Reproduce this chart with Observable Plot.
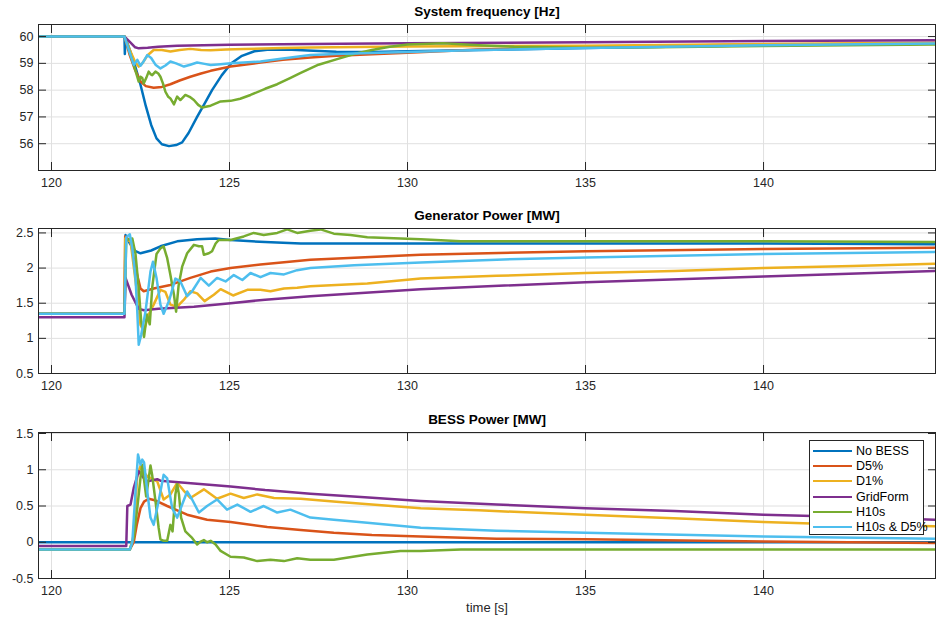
<!DOCTYPE html>
<html><head><meta charset="utf-8">
<script src="https://cdn.jsdelivr.net/npm/d3@7"></script>
<script src="https://cdn.jsdelivr.net/npm/@observablehq/plot@0.6"></script>
<style>
body{margin:0;background:#fff;}
#chart{position:relative;width:939px;height:617px;font-family:"Liberation Sans",Arial,sans-serif;overflow:hidden;}
.panel{position:absolute;left:0;}
#legend{position:absolute;left:809px;top:440px;width:113px;height:93px;border:1px solid #262626;background:#fff;font-size:12.5px;color:#000;}
.lrow{position:absolute;left:0;height:14px;width:113px;}
.lline{position:absolute;left:3px;top:6px;width:39px;height:2px;}
.ltext{position:absolute;left:46px;top:0;line-height:14px;white-space:nowrap;}
</style></head><body><div id="chart"></div><script>
// ---- series ----
const seriesNames = ["No BESS","D5%","D1%","GridForm","H10s","H10s & D5%"];
const seriesColors = ["#0072BD","#D95319","#EDB120","#7E2F8E","#77AC30","#4DBEEE"];
const xTicks = [120,125,130,135,140];
const freqTicks = [56,57,58,59,60];
const genTicks = [0.5,1,1.5,2,2.5];
const bessTicks = [-0.5,0,0.5,1,1.5];

// ---- System frequency [Hz] : [time, value] ----
const f_noBESS = [[119.65,60],[122.05,60],[122.06,59.35],[122.08,59.95],[122.12,59.8],[122.2,59.5],[122.35,58.9],[122.5,58.2],[122.65,57.4],[122.8,56.7],[122.95,56.2],[123.1,55.98],[123.3,55.91],[123.5,55.95],[123.67,56.05],[123.85,56.4],[124.09,57.0],[124.3,57.5],[124.51,58.0],[124.78,58.55],[125.05,59.0],[125.35,59.28],[125.7,59.45],[126.06,59.51],[126.6,59.52],[127.2,59.48],[128,59.43],[129,59.42],[130,59.45],[132,59.5],[135,59.57],[140,59.68],[144.8,59.74]];
const f_D5 = [[119.65,60],[122.05,60],[122.2,59.3],[122.35,58.75],[122.5,58.32],[122.65,58.15],[122.87,58.09],[123.1,58.12],[123.34,58.22],[123.6,58.36],[123.9,58.5],[124.2,58.62],[124.47,58.72],[125.03,58.88],[125.87,59.03],[126.5,59.13],[127.27,59.22],[128,59.28],[130,59.4],[132,59.52],[135,59.62],[140,59.7],[144.8,59.75]];
const f_D1 = [[119.65,60],[122.05,60],[122.2,59.5],[122.35,59.05],[122.45,58.88],[122.55,59.0],[122.7,59.3],[122.87,59.5],[123.1,59.5],[123.34,59.44],[123.6,59.5],[123.9,59.54],[124.2,59.5],[124.47,59.49],[124.9,59.52],[125.4,59.54],[126.5,59.57],[127.27,59.59],[130,59.63],[135,59.66],[140,59.72],[144.8,59.77]];
const f_GridForm = [[119.65,60],[122.05,60],[122.2,59.8],[122.35,59.6],[122.45,59.56],[122.7,59.58],[123.0,59.62],[123.53,59.66],[125,59.69],[127.27,59.72],[130,59.75],[135,59.79],[140,59.83],[144.8,59.86]];
const f_H10s = [[119.65,60],[122.05,60],[122.15,59.6],[122.31,58.94],[122.45,58.32],[122.5,58.5],[122.55,58.45],[122.59,58.25],[122.66,58.45],[122.73,58.69],[122.78,58.6],[122.83,58.56],[122.92,58.69],[123.0,58.62],[123.06,58.5],[123.13,58.25],[123.2,57.94],[123.28,57.75],[123.34,57.69],[123.44,57.47],[123.53,57.76],[123.62,57.63],[123.76,57.82],[123.88,57.75],[124.0,57.63],[124.12,57.45],[124.23,57.35],[124.47,57.42],[124.75,57.58],[125.03,57.6],[125.3,57.68],[125.59,57.82],[126.0,58.05],[126.34,58.22],[126.7,58.45],[127.0,58.64],[127.5,58.95],[128.0,59.15],[128.5,59.35],[129.0,59.5],[129.5,59.62],[130.0,59.7],[131,59.75],[132,59.68],[133,59.62],[135,59.58],[137,59.6],[140,59.65],[144.8,59.7]];
const f_H10sD5 = [[119.65,60],[122.05,60],[122.15,59.6],[122.31,58.94],[122.41,59.13],[122.5,58.91],[122.6,59.1],[122.69,59.31],[122.8,59.2],[122.92,58.95],[123.06,58.81],[123.2,58.92],[123.34,59.07],[123.5,59.0],[123.72,58.88],[123.9,58.95],[124.09,59.03],[124.3,58.98],[124.47,58.94],[124.75,58.97],[125.03,59.0],[125.4,59.03],[125.87,59.07],[126.5,59.18],[127.27,59.31],[128,59.35],[130,59.42],[132,59.5],[135,59.57],[140,59.68],[144.8,59.74]];

// ---- Generator Power [MW] ----
const g_noBESS = [[119.65,1.35],[122.05,1.35],[122.08,2.47],[122.2,2.35],[122.36,2.24],[122.5,2.21],[122.8,2.25],[123.06,2.31],[123.53,2.38],[124.09,2.41],[124.6,2.42],[125.03,2.40],[126,2.37],[127,2.35],[130,2.35],[135,2.35],[140,2.35],[144.8,2.34]];
const g_D5 = [[119.65,1.35],[122.05,1.35],[122.07,2.45],[122.22,2.38],[122.36,2.0],[122.5,1.71],[122.59,1.67],[122.87,1.71],[123.34,1.76],[123.9,1.86],[124.47,1.95],[125.03,2.0],[125.87,2.05],[127.27,2.12],[130.37,2.19],[135,2.24],[140,2.27],[144.8,2.29]];
const g_D1 = [[119.65,1.35],[122.05,1.35],[122.07,2.42],[122.22,2.38],[122.41,1.62],[122.5,1.19],[122.59,1.1],[122.73,1.34],[122.87,1.48],[123.06,1.69],[123.2,1.66],[123.34,1.48],[123.53,1.45],[123.72,1.55],[123.9,1.67],[124.09,1.64],[124.3,1.53],[124.56,1.62],[124.75,1.7],[125.1,1.61],[125.5,1.69],[125.87,1.69],[126.15,1.67],[126.53,1.71],[126.9,1.72],[127.27,1.74],[128.87,1.78],[130.37,1.85],[132.5,1.89],[135,1.93],[137.5,1.96],[140,2.0],[142.5,2.03],[144.8,2.06]];
const g_GridForm = [[119.65,1.3],[122.05,1.3],[122.08,1.86],[122.25,1.62],[122.45,1.42],[122.6,1.40],[123.0,1.42],[124.0,1.45],[125.03,1.5],[126,1.55],[127.27,1.6],[130.37,1.7],[135,1.8],[140,1.88],[144.8,1.96]];
const g_H10s = [[119.65,1.35],[122.05,1.35],[122.1,2.4],[122.27,2.42],[122.36,2.2],[122.45,1.71],[122.52,1.24],[122.6,1.02],[122.68,1.34],[122.76,1.2],[122.83,1.73],[122.95,2.2],[123.06,2.28],[123.15,2.31],[123.25,2.14],[123.34,1.9],[123.44,1.62],[123.5,1.38],[123.57,1.75],[123.67,2.02],[123.81,2.21],[124.0,2.33],[124.14,2.31],[124.23,2.31],[124.28,2.19],[124.42,2.21],[124.51,2.24],[124.61,2.35],[124.7,2.40],[125.03,2.40],[125.4,2.45],[125.68,2.5],[125.96,2.47],[126.34,2.5],[126.62,2.55],[126.9,2.5],[127.27,2.53],[127.56,2.55],[127.93,2.49],[128.4,2.47],[128.87,2.44],[129.8,2.42],[130.37,2.41],[131.5,2.38],[135,2.38],[140,2.38],[144.8,2.37]];
const g_H10sD5 = [[119.65,1.35],[122.05,1.35],[122.1,2.44],[122.2,2.48],[122.27,2.28],[122.36,1.86],[122.41,1.38],[122.45,0.91],[122.52,1.05],[122.64,1.38],[122.78,1.95],[122.85,2.09],[122.95,1.86],[123.06,1.48],[123.15,1.35],[123.3,1.53],[123.48,1.85],[123.62,1.81],[123.81,1.6],[123.95,1.67],[124.19,1.86],[124.42,1.75],[124.65,1.86],[124.89,1.81],[125.12,1.9],[125.36,1.83],[125.59,1.93],[125.87,1.87],[126.15,1.93],[126.53,1.91],[126.9,1.97],[127.27,2.0],[128.5,2.04],[130.37,2.08],[132.5,2.12],[135,2.15],[140,2.2],[144.8,2.23]];

// ---- BESS Power [MW] ----
const b_noBESS = [[119.65,0],[122.05,0],[144.8,0]];
const b_D5 = [[119.65,-0.1],[122.2,-0.1],[122.31,0.0],[122.4,0.25],[122.5,0.47],[122.6,0.56],[122.73,0.6],[122.9,0.58],[123.25,0.5],[123.81,0.38],[124.37,0.31],[125.03,0.28],[126.06,0.21],[127.0,0.17],[127.93,0.13],[129,0.1],[130.37,0.08],[132.5,0.05],[135,0.04],[140,0.01],[144.8,-0.01]];
const b_D1 = [[119.65,-0.1],[122.2,-0.1],[122.31,0.1],[122.41,0.93],[122.5,1.05],[122.59,0.97],[122.69,0.91],[122.97,0.84],[123.15,0.59],[123.34,0.66],[123.53,0.82],[123.7,0.72],[123.9,0.61],[124.28,0.73],[124.65,0.6],[125.03,0.67],[125.4,0.61],[125.78,0.66],[126.25,0.61],[127.0,0.6],[128,0.56],[129,0.52],[130.37,0.47],[132,0.44],[135,0.38],[138,0.32],[140,0.28],[142,0.25],[144.8,0.22]];
const b_GridForm = [[119.65,-0.05],[122.1,-0.05],[122.13,0.5],[122.22,0.52],[122.31,0.75],[122.45,0.98],[122.6,0.88],[122.69,0.84],[122.97,0.87],[123.06,0.85],[124,0.81],[125.03,0.77],[126,0.72],[127.27,0.67],[128.8,0.62],[130.37,0.57],[132.5,0.52],[135,0.47],[137.5,0.43],[140,0.38],[142.5,0.35],[144.8,0.31]];
const b_H10s = [[119.65,-0.1],[122.2,-0.1],[122.31,0.06],[122.41,0.47],[122.5,0.89],[122.55,1.07],[122.59,0.9],[122.66,0.63],[122.72,0.84],[122.78,1.06],[122.83,0.92],[122.92,0.57],[123.01,0.2],[123.06,0.04],[123.15,0.02],[123.25,0.02],[123.34,0.24],[123.4,0.15],[123.48,0.66],[123.53,0.8],[123.58,0.66],[123.64,0.34],[123.76,0.15],[123.95,0.06],[124.09,-0.03],[124.19,0.01],[124.28,0.03],[124.37,0.0],[124.47,0.02],[124.61,-0.03],[124.75,-0.12],[125.03,-0.2],[125.4,-0.21],[125.78,-0.26],[126.15,-0.24],[126.53,-0.26],[126.9,-0.22],[127.27,-0.24],[127.93,-0.24],[128.87,-0.17],[129.8,-0.12],[130.37,-0.12],[131.5,-0.1],[135,-0.1],[140,-0.1],[144.8,-0.1]];
const b_H10sD5 = [[119.65,-0.1],[122.2,-0.1],[122.27,0.0],[122.36,0.7],[122.43,1.21],[122.5,1.07],[122.55,1.14],[122.6,1.1],[122.69,0.7],[122.78,0.34],[122.87,0.24],[123.01,0.57],[123.15,0.93],[123.25,0.88],[123.39,0.47],[123.53,0.34],[123.67,0.52],[123.81,0.7],[123.95,0.59],[124.14,0.41],[124.37,0.5],[124.65,0.59],[124.93,0.45],[125.22,0.52],[125.59,0.42],[125.96,0.5],[126.34,0.41],[126.71,0.45],[127.27,0.34],[127.93,0.31],[128.87,0.27],[130.37,0.2],[132.5,0.16],[135,0.13],[140,0.08],[144.8,0.05]];

// ---- build ----
function rows(arrays){ return arrays.flatMap((arr,i)=>arr.map(([t,v])=>({t,v,s:seriesNames[i]}))); }
const fmt = d => String(d);
const chart = document.getElementById("chart");

function panel({data, yDomain, yTicks, title, top, height, marginBottom, xlabel}) {
  const marks = [
    Plot.gridX(xTicks, {stroke:"#e0e0e0", strokeOpacity:1}),
    Plot.gridY(yTicks, {stroke:"#e0e0e0", strokeOpacity:1}),
    Plot.line(data, {x:"t", y:"v", z:"s", stroke:"s", strokeWidth:2.5, clip:true}),
    Plot.axisX(xTicks, {anchor:"bottom", tickSize:-8, tickFormat:()=>"", label:null}),
    Plot.axisX(xTicks, {anchor:"top", tickSize:-8, tickFormat:()=>"", label:null}),
    Plot.axisY(yTicks, {anchor:"left", tickSize:-8, tickFormat:()=>"", label:null}),
    Plot.axisY(yTicks, {anchor:"right", tickSize:-8, tickFormat:()=>"", label:null}),
    Plot.axisX(xTicks, {anchor:"bottom", tickSize:0, tickPadding:8, label:null, tickFormat:fmt}),
    Plot.axisY(yTicks, {anchor:"left", tickSize:0, tickPadding:5, label:null, tickFormat:fmt}),
    Plot.frame({stroke:"#262626"}),
    Plot.text([title], {frameAnchor:"top", lineAnchor:"middle", dy:-12.5, fontWeight:"bold", fontSize:13.5, fill:"#000"})
  ];
  if (xlabel) marks.push(Plot.text([xlabel], {frameAnchor:"bottom", lineAnchor:"middle", dy:29.5, fontSize:13, fill:"#262626"}));
  const svg = Plot.plot({
    width: 939, height, marginTop: 24, marginBottom, marginLeft: 38, marginRight: 4,
    style: {fontFamily:"'Liberation Sans', Arial, sans-serif", fontSize:"12.5px", color:"#262626", background:"transparent", overflow:"visible"},
    x: {domain: [119.635, 144.83]},
    y: {domain: yDomain},
    color: {domain: seriesNames, range: seriesColors},
    marks
  });
  svg.classList.add("panel");
  svg.style.top = top + "px";
  svg.style.position = "absolute";
  chart.appendChild(svg);
}

panel({data: rows([f_noBESS,f_D5,f_D1,f_GridForm,f_H10s,f_H10sD5]), yDomain:[55,60.45], yTicks:freqTicks, title:"System frequency [Hz]", top:0, height:200, marginBottom:30});
panel({data: rows([g_noBESS,g_D5,g_D1,g_GridForm,g_H10s,g_H10sD5]), yDomain:[0.5,2.563], yTicks:genTicks, title:"Generator Power [MW]", top:204, height:199, marginBottom:30});
panel({data: rows([b_noBESS,b_D5,b_D1,b_GridForm,b_H10s,b_H10sD5]), yDomain:[-0.5,1.514], yTicks:bessTicks, title:"BESS Power [MW]", top:408, height:210, marginBottom:40, xlabel:"time [s]"});

// legend
const legend = document.createElement("div");
legend.id = "legend";
seriesNames.forEach((name,i)=>{
  const row = document.createElement("div");
  row.className = "lrow";
  row.style.top = Math.round(3 + i*15.2) + "px";
  const line = document.createElement("div");
  line.className = "lline";
  line.style.background = seriesColors[i];
  const txt = document.createElement("div");
  txt.className = "ltext";
  txt.textContent = name;
  row.appendChild(line); row.appendChild(txt);
  legend.appendChild(row);
});
chart.appendChild(legend);
</script></body></html>
